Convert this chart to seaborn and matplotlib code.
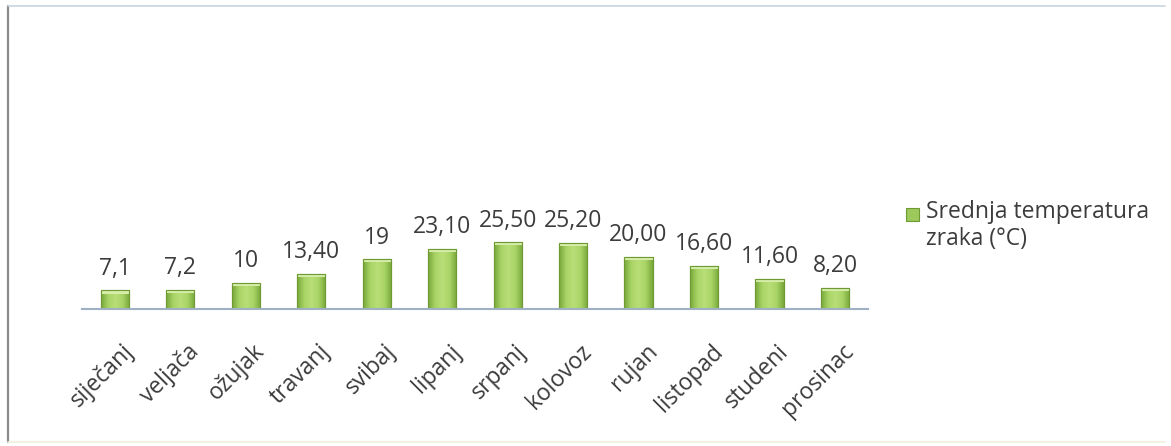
import numpy as np
import pandas as pd
import matplotlib
matplotlib.use("Agg")
import matplotlib.pyplot as plt
import matplotlib.patches as mpatches
import matplotlib.transforms as mtransforms
from matplotlib.colors import LinearSegmentedColormap
import seaborn as sns

# data
months = ["siječanj", "veljača", "ožujak", "travanj", "svibaj", "lipanj",
          "srpanj", "kolovoz", "rujan", "listopad", "studeni", "prosinac"]
temps = [7.1, 7.2, 10, 13.4, 19, 23.1, 25.5, 25.2, 20.0, 16.6, 11.6, 8.2]
value_labels = ["7,1", "7,2", "10", "13,40", "19", "23,10", "25,50", "25,20",
                "20,00", "16,60", "11,60", "8,20"]
series_name = "Srednja temperatura\nzraka (°C)"

sns.set_theme(style="white")
plt.rcParams["font.family"] = ["Open Sans", "DejaVu Sans"]

txt = "#3c3c3c"
df = pd.DataFrame({"mjesec": months, "temp": temps})

fig = plt.figure(figsize=(11.71, 4.46), dpi=100)
ax = fig.add_axes([0.070, 0.307, 0.671, 0.648])

sns.barplot(data=df, x="mjesec", y="temp", color="#93c052", width=0.43,
            edgecolor="#6e9a34", linewidth=0.8, saturation=1, ax=ax)

# gradient fill clipped to each bar
cmap = LinearSegmentedColormap.from_list("g", ["#79a83a", "#a9d466", "#b8de78", "#a9d466", "#79a83a"])
grad = np.linspace(0, 1, 64).reshape(1, -1)
for bar in ax.patches:
    x0, y0 = bar.get_x(), bar.get_y()
    w, h = bar.get_width(), bar.get_height()
    im = ax.imshow(grad, cmap=cmap, extent=[x0, x0 + w, y0, y0 + h],
                   aspect="auto", zorder=bar.get_zorder() + 0.1)
    im.set_clip_path(bar)
    # light bevel on top
    ax.add_patch(mpatches.Rectangle((x0, y0 + h - 1.2), w, 1.2, facecolor="#d6ecab",
                                    edgecolor="none", zorder=bar.get_zorder() + 0.2))
    ax.add_patch(mpatches.Rectangle((x0, y0), w, h, facecolor="none", edgecolor="#6e9a34",
                                    linewidth=0.8, zorder=bar.get_zorder() + 0.3))

for i, (v, lab) in enumerate(zip(temps, value_labels)):
    ax.annotate(lab, (i, v), xytext=(0, 7), textcoords="offset points",
                ha="center", va="bottom", fontsize=16.5, color=txt)

ax.set_xlim(-0.5, 11.5)
ax.set_ylim(0, 110.3)
ax.set_xlabel("")
ax.set_ylabel("")
ax.set_yticks([])
for s in ["top", "right", "left"]:
    ax.spines[s].set_visible(False)
ax.spines["bottom"].set_color("#9fb0c4")
ax.spines["bottom"].set_linewidth(1.5)
ax.tick_params(axis="x", length=0, pad=22)
shift = mtransforms.ScaledTranslation(0.07, 0, fig.dpi_scale_trans)
for lbl in ax.get_xticklabels():
    lbl.set_rotation(45)
    lbl.set_ha("right")
    lbl.set_rotation_mode("anchor")
    lbl.set_fontsize(16.5)
    lbl.set_color(txt)
    lbl.set_transform(lbl.get_transform() + shift)

# legend
fig.patches.append(mpatches.Rectangle((906 / 1171, 1 - 221 / 446), 13 / 1171, 13 / 446,
                                      transform=fig.transFigure, facecolor="#9cc85c",
                                      edgecolor="#6e9a34", linewidth=0.8))
fig.text(926 / 1171, 1 - 200 / 446, series_name, ha="left", va="top",
         fontsize=16.5, color=txt, linespacing=1.15)

# outer frame
fig.add_artist(plt.Line2D([8 / 1171, 8 / 1171], [1 - 442 / 446, 1 - 6 / 446],
                          transform=fig.transFigure, color="#8a8a8a", linewidth=1.6))
fig.add_artist(plt.Line2D([8 / 1171, 1165 / 1171], [1 - 6 / 446, 1 - 6 / 446],
                          transform=fig.transFigure, color="#c8d4e0", linewidth=1.2))
fig.add_artist(plt.Line2D([8 / 1171, 1165 / 1171], [1 - 442 / 446, 1 - 442 / 446],
                          transform=fig.transFigure, color="#f0f0dc", linewidth=1.2))

fig.savefig("out.png", dpi=100, facecolor="white")
